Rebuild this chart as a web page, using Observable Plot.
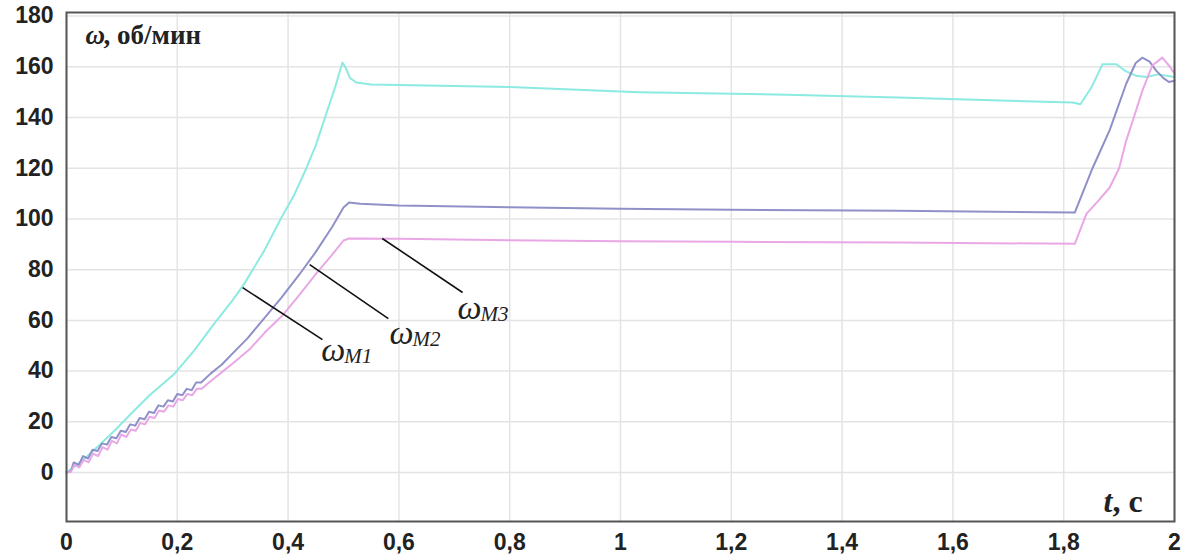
<!DOCTYPE html>
<html>
<head>
<meta charset="utf-8">
<script src="https://cdn.jsdelivr.net/npm/d3@7"></script>
<script src="https://cdn.jsdelivr.net/npm/@observablehq/plot@0.6"></script>
<style>
  html, body { margin: 0; padding: 0; background: #fff; }
  #chart svg { display: block; }
</style>
</head>
<body>
<div id="chart"></div>
<script>
// ---- data ----
const xTicks = [0, 0.2, 0.4, 0.6, 0.8, 1, 1.2, 1.4, 1.6, 1.8, 2];
const xTickLabels = ["0", "0,2", "0,4", "0,6", "0,8", "1", "1,2", "1,4", "1,6", "1,8", "2"];
const yTicks = [0, 20, 40, 60, 80, 100, 120, 140, 160, 180];

// ω_M1 (cyan)
const m1T = [0, 0.03, 0.06, 0.087, 0.12, 0.15, 0.195, 0.23, 0.267, 0.3, 0.321, 0.357, 0.388, 0.41, 0.433, 0.45, 0.469, 0.485, 0.498, 0.503, 0.512, 0.523, 0.55, 0.8, 1.034, 1.3, 1.5, 1.816, 1.83, 1.85, 1.87, 1.895, 1.91, 1.93, 1.95, 1.97, 2.0];
const m1V = [0, 5, 11, 16.6, 24, 30.5, 39, 48, 58.8, 68, 74.5, 87.5, 100.6, 109, 120, 129, 141.6, 152, 161.7, 160, 155.5, 153.8, 153, 152, 150, 149, 147.9, 145.9, 145.2, 151.8, 161, 161, 158.5, 156.5, 156, 157, 156];

// ω_M2 (blue)
const m2T = [0, 0.008, 0.013, 0.022, 0.030, 0.039, 0.047, 0.056, 0.064, 0.073, 0.081, 0.090, 0.098, 0.107, 0.115, 0.124, 0.132, 0.141, 0.149, 0.158, 0.166, 0.175, 0.183, 0.192, 0.200, 0.209, 0.217, 0.226, 0.234, 0.243, 0.26, 0.28, 0.30, 0.327, 0.35, 0.388, 0.42, 0.45, 0.48, 0.5, 0.51, 0.53, 0.6, 0.8, 1.0, 1.2, 1.5, 1.82, 1.852, 1.883, 1.913, 1.93, 1.942, 1.955, 1.967, 1.98, 1.99, 2.0];
const m2V = [0, 0.5, 4, 3, 6.5, 5.5, 9, 8.5, 11.5, 11, 14, 13.5, 16.5, 16, 19, 18.5, 21.5, 21, 24, 23.5, 26.5, 26, 28.5, 28, 31, 30.5, 33, 32.5, 35.5, 35.5, 39, 42.5, 47, 53, 59, 69, 78, 87, 97, 104.5, 106.5, 106, 105.3, 104.6, 104, 103.6, 103.2, 102.5, 120, 135, 153.4, 161.5, 163.6, 162, 158.5, 155.5, 154, 154.5];

// ω_M3 (pink)
const m3T = [0, 0.008, 0.014, 0.023, 0.031, 0.040, 0.048, 0.057, 0.065, 0.074, 0.082, 0.091, 0.099, 0.108, 0.116, 0.125, 0.133, 0.142, 0.150, 0.159, 0.167, 0.176, 0.184, 0.193, 0.201, 0.21, 0.218, 0.227, 0.235, 0.244, 0.26, 0.28, 0.30, 0.33, 0.357, 0.39, 0.42, 0.451, 0.48, 0.5, 0.51, 0.6, 0.8, 1.0, 1.2, 1.5, 1.82, 1.841, 1.862, 1.883, 1.9, 1.913, 1.928, 1.942, 1.96, 1.978, 1.99, 2.0];
const m3V = [0, 0.3, 3, 2, 5, 4, 7.5, 6.5, 10, 9, 12.5, 11.5, 15, 14, 17, 16.5, 19.5, 19, 22, 21.5, 24.5, 24, 26.5, 26, 29, 28.5, 31, 30.5, 33, 33, 36, 39.5, 43, 48.5, 55, 62, 70, 78.5, 86, 91.5, 92.3, 92.2, 91.6, 91.2, 91, 90.7, 90.2, 102, 107, 112.4, 120, 131, 141, 150.6, 160.5, 163.6, 160.5, 157.3];

// leader lines and curve labels
const labelNames = ["M1", "M2", "M3"];
const leaderT1 = [0.318, 0.439, 0.570];
const leaderV1 = [72.9, 82.0, 92.3];
const leaderT2 = [0.462, 0.581, 0.715];
const leaderV2 = [52.4, 60.7, 71.0];
const labelT = [0.460, 0.583, 0.706];
const labelV = [46.5, 53.0, 63.0];

const seriesColors = {M1: "#86e9df", M2: "#8a8ac6", M3: "#e8a2e4"};

// ---- build tables ----
function table(name, ts, vs) { return ts.map((t, i) => ({t, v: vs[i], s: name})); }
const curves = [...table("M1", m1T, m1V), ...table("M2", m2T, m2V), ...table("M3", m3T, m3V)];
const leaders = labelNames.map((n, i) => ({n, t1: leaderT1[i], v1: leaderV1[i], t2: leaderT2[i], v2: leaderV2[i]}));
const labels = labelNames.map((n, i) => ({n, t: labelT[i], v: labelV[i]}));

const sans = "'Liberation Sans', Arial, sans-serif";
const serif = "'Liberation Serif', 'Times New Roman', serif";

const chart = Plot.plot({
  width: 1184,
  height: 557,
  marginLeft: 66,
  marginRight: 10,
  marginTop: 12,
  marginBottom: 36,
  style: {background: "#fff", color: "#222"},
  x: {domain: [0, 2]},
  y: {domain: [-19.3, 181.4]},
  marks: [
    Plot.gridX(xTicks, {stroke: "#e4e4e4", strokeOpacity: 1, strokeWidth: 1.5}),
    Plot.gridY(yTicks, {stroke: "#e4e4e4", strokeOpacity: 1, strokeWidth: 1.5}),
    Plot.line(curves, {x: "t", y: "v", z: "s", stroke: d => seriesColors[d.s], strokeWidth: 2, strokeOpacity: 0.95}),
    Plot.link(leaders, {x1: "t1", y1: "v1", x2: "t2", y2: "v2", stroke: "#111", strokeWidth: 1.6}),
    Plot.text(labels, {x: "t", y: "v", text: () => "ω", textAnchor: "start", lineAnchor: "bottom", fontFamily: serif, fontStyle: "italic", fontSize: 34, fill: "#222", dy: 6}),
    Plot.text(labels, {x: "t", y: "v", text: "n", textAnchor: "start", lineAnchor: "bottom", fontFamily: serif, fontStyle: "italic", fontSize: 21, fill: "#222", dx: 23, dy: 8}),
    Plot.axisX({ticks: xTicks, tickFormat: d => xTickLabels[xTicks.indexOf(d)], tickSize: 0, tickPadding: 12, fontSize: 23, fontWeight: "bold", fontFamily: sans, label: null}),
    Plot.axisY({ticks: yTicks, tickSize: 0, tickPadding: 13, fontSize: 23, fontWeight: "bold", fontFamily: sans, label: null}),
    Plot.frame({stroke: "#555", strokeWidth: 2}),
    Plot.text(["ω"], {frameAnchor: "top-left", dx: 19, dy: 23, textAnchor: "start", lineAnchor: "middle", fontFamily: serif, fontStyle: "italic", fontWeight: "bold", fontSize: 27, fill: "#222"}),
    Plot.text([", об/мин"], {frameAnchor: "top-left", dx: 37, dy: 23, textAnchor: "start", lineAnchor: "middle", fontFamily: serif, fontWeight: "bold", fontSize: 27, fill: "#222"}),
    Plot.text(["t"], {frameAnchor: "bottom-right", dx: -62, dy: -20, textAnchor: "end", lineAnchor: "middle", fontFamily: serif, fontStyle: "italic", fontWeight: "bold", fontSize: 32, fill: "#222"}),
    Plot.text([", с"], {frameAnchor: "bottom-right", dx: -62, dy: -20, textAnchor: "start", lineAnchor: "middle", fontFamily: serif, fontWeight: "bold", fontSize: 32, fill: "#222"})
  ]
});
document.getElementById("chart").appendChild(chart);
</script>
</body>
</html>
